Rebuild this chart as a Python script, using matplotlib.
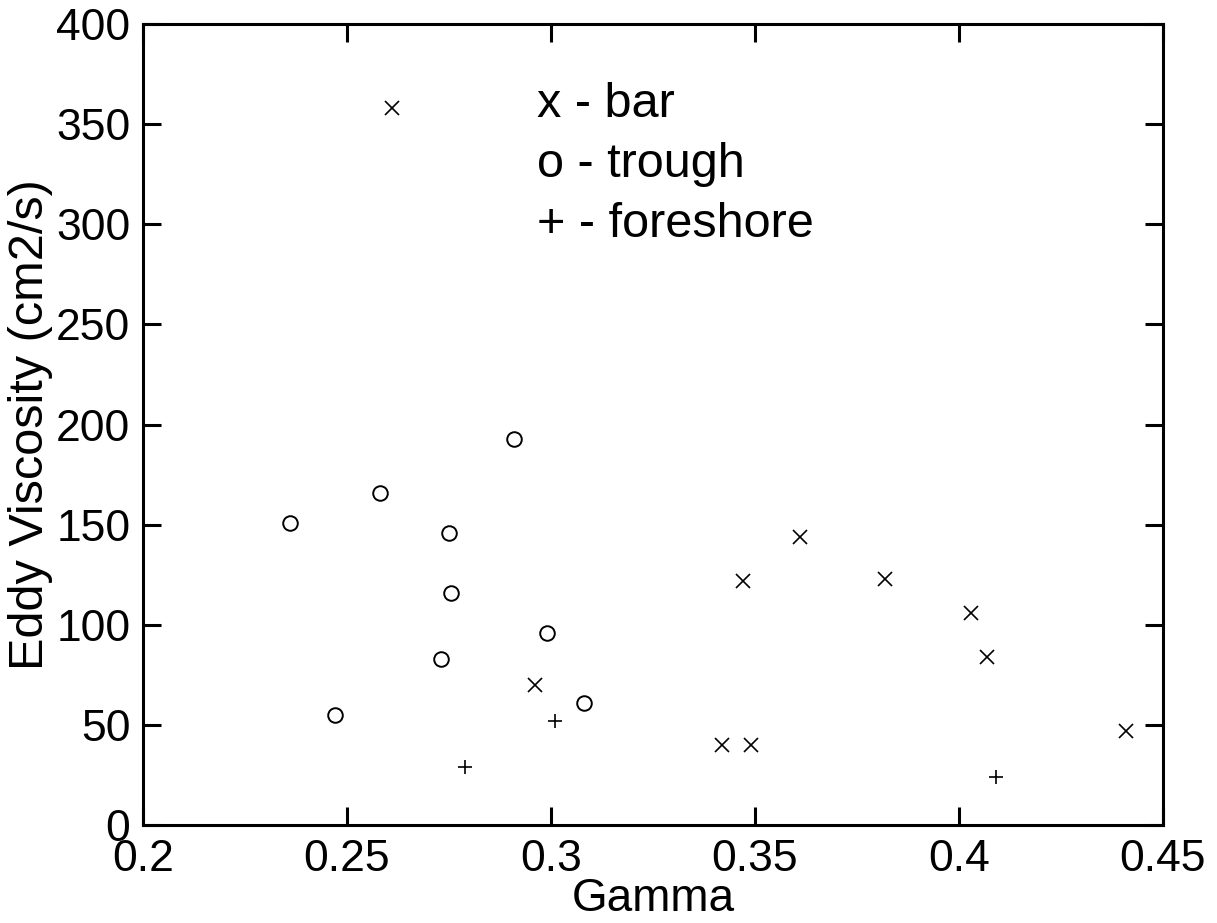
import matplotlib
matplotlib.use("Agg")
import matplotlib.pyplot as plt
import numpy as np

plt.rcParams['font.family'] = ['Liberation Sans', 'DejaVu Sans']

# bar (x), trough (o), foreshore (+) points
bar_gamma = [0.261, 0.296, 0.342, 0.349, 0.347, 0.361, 0.382, 0.403, 0.407, 0.441]
bar_visc = [358, 70, 40, 40, 122, 144, 123, 106, 84, 47]

trough_gamma = [0.236, 0.247, 0.258, 0.273, 0.275, 0.2755, 0.291, 0.299, 0.308]
trough_visc = [151, 55, 166, 83, 146, 116, 193, 96, 61]

fore_gamma = [0.279, 0.301, 0.409]
fore_visc = [29, 52, 24]

legend_lines = ['x - bar', 'o - trough', '+ - foreshore']

fig = plt.figure(figsize=(12.17, 9.23), dpi=100)
ax = fig.add_axes([0.1175, 0.106, 0.838, 0.868])

ax.plot(bar_gamma, bar_visc, linestyle='none', marker='x', color='black',
        markersize=10, markeredgewidth=1.2)
ax.plot(trough_gamma, trough_visc, linestyle='none', marker='o', color='black',
        markerfacecolor='none', markersize=10.5, markeredgewidth=1.4)
ax.plot(fore_gamma, fore_visc, linestyle='none', marker='+', color='black',
        markersize=9.5, markeredgewidth=1.2)

ax.set_xlim(0.2, 0.45)
ax.set_ylim(0, 400)
ax.set_xticks(np.arange(0.2, 0.4501, 0.05))
ax.set_xticklabels(['0.2', '0.25', '0.3', '0.35', '0.4', '0.45'])
ax.set_yticks(np.arange(0, 401, 50))

ax.tick_params(direction='in', length=13, width=2.2, labelsize=32,
               top=True, right=True, pad=9)
ax.tick_params(axis='x', pad=10)
for s in ax.spines.values():
    s.set_linewidth(2.2)

ax.set_xlabel('Gamma', fontsize=33, labelpad=-2)
ax.set_ylabel('Eddy Viscosity (cm2/s)', fontsize=35, labelpad=2)

for i, txt in enumerate(legend_lines):
    ax.text(0.386, 0.884 - 0.075 * i, txt, transform=ax.transAxes,
            fontsize=35, va='baseline', ha='left')

fig.savefig('out.png', dpi=100)
